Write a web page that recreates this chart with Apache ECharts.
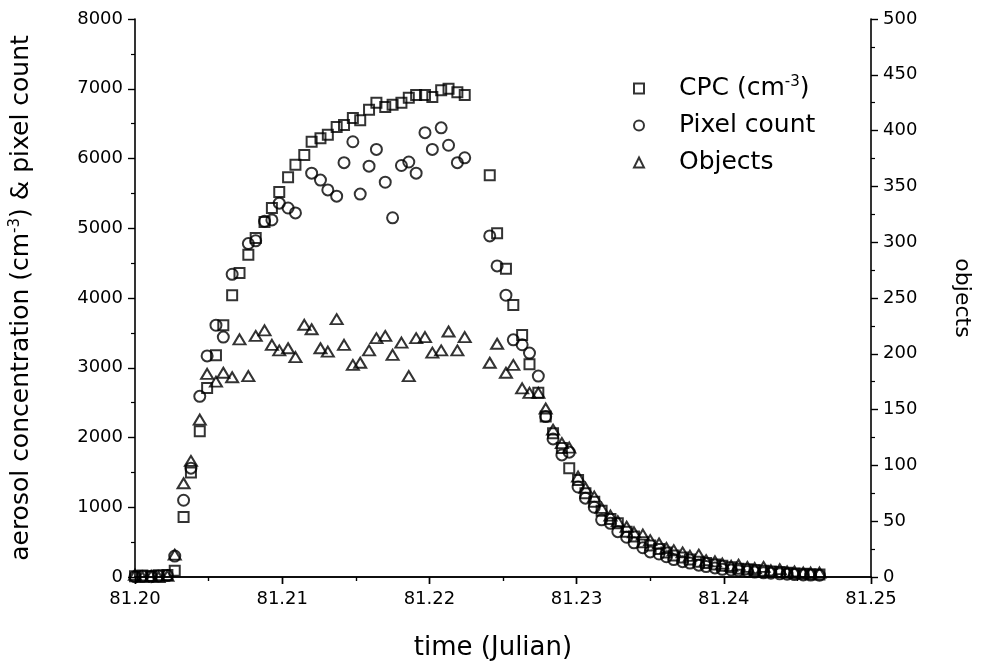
<!DOCTYPE html>
<html>
<head>
<meta charset="utf-8">
<script src="https://cdn.jsdelivr.net/npm/echarts@6/dist/echarts.min.js"></script>
<style>
html,body{margin:0;padding:0;background:#fff;}
#chart{width:981px;height:667px;}
</style>
</head>
<body>
<div id="chart"></div>
<script>
const time = [81.2000,81.2005,81.2011,81.2016,81.2022,81.2027,81.2033,81.2038,81.2044,81.2049,
81.2055,81.2060,81.2066,81.2071,81.2077,81.2082,81.2088,81.2093,81.2098,81.2104,
81.2109,81.2115,81.2120,81.2126,81.2131,81.2137,81.2142,81.2148,81.2153,81.2159,
81.2164,81.2170,81.2175,81.2181,81.2186,81.2191,81.2197,81.2202,81.2208,81.2213,
81.2219,81.2224,81.2230,81.2235,81.2241,81.2246,81.2252,81.2257,81.2263,81.2268,
81.2274,81.2279,81.2284,81.2290,81.2295,81.2301,81.2306,81.2312,81.2317,81.2323,
81.2328,81.2334,81.2339,81.2345,81.2350,81.2356,81.2361,81.2366,81.2372,81.2377,
81.2383,81.2388,81.2394,81.2399,81.2405,81.2410,81.2416,81.2421,81.2427,81.2432,
81.2438,81.2443,81.2448,81.2454,81.2459,81.2465];

const cpc = [10,20,15,25,30,90,860,1500,2090,2710,
3180,3610,4040,4360,4620,4860,5090,5290,5520,5730,
5910,6050,6240,6290,6340,6450,6480,6580,6550,6700,
6800,6740,6770,6800,6870,6910,6910,6880,6980,7000,
6950,6910,null,null,5760,4930,4420,3900,3470,3050,
2640,2300,2060,1850,1560,1390,1200,1080,950,830,
770,650,580,500,450,400,350,310,280,250,
220,200,180,160,140,120,110,100,90,80,
70,60,50,45,40,35];

const pixel = [5,10,5,15,20,300,1100,1560,2590,3170,
3610,3440,4340,null,4780,4820,5100,5120,5360,5290,
5220,null,5790,5690,5550,5460,5940,6240,5490,5890,
6130,5660,5150,5900,5950,5790,6370,6130,6440,6190,
5940,6010,null,null,4890,4460,4040,3400,3330,3210,
2880,2300,1980,1750,1790,1290,1130,1000,820,770,
650,570,490,420,360,330,290,250,220,200,
170,150,130,110,100,90,80,70,60,55,
45,40,35,30,28,25];

const objects = [2,0,1,0,1,20,84,104,141,182,
175,183,179,213,180,216,221,208,203,205,
197,226,222,205,202,231,208,190,192,203,
214,216,199,210,180,214,215,201,203,220,
203,215,null,null,192,209,183,190,169,165,
165,151,132,120,116,90,80,72,62,55,
50,45,40,38,33,30,26,24,22,19,
20,15,14,12,10,11,9,8,9,6,
7,5,5,4,4,4];

const xTicks = [81.20, 81.21, 81.22, 81.23, 81.24, 81.25];
const leftTicks = [0,1000,2000,3000,4000,5000,6000,7000,8000];
const rightTicks = [0,50,100,150,200,250,300,350,400,450,500];

function pairs(vals){ return time.map((t,i)=> vals[i]==null ? null : [t, vals[i]]).filter(p=>p); }

const FONT = 'DejaVu Sans';
const axisLine = {show:true, lineStyle:{color:'#000', width:1.6}};
const chart = echarts.init(document.getElementById('chart'), null, {renderer:'canvas'});
const markerStyle = {color:'rgba(255,255,255,0)', borderColor:'#000', borderWidth:2};

chart.setOption({
  backgroundColor:'#fff',
  animation:false,
  grid:{left:135, right:107, top:19, bottom:90, containLabel:false},
  legend:{
    orient:'vertical', left:628, top:70, itemGap:12,
    itemWidth:10, itemHeight:10,
    data:['CPC','Pixel count','Objects'],
    formatter: function(n){ return n==='CPC' ? '{a|CPC (cm}{s|-3}{a|)}' : '{a|'+n+'}'; },
    textStyle:{ fontFamily:FONT, fontSize:25, color:'#000', padding:[0,0,0,30],
      rich:{ a:{fontFamily:FONT, fontSize:25, color:'#000'}, s:{fontFamily:FONT, fontSize:15, color:'#000', verticalAlign:'top', padding:[0,0,12,0]} } }
  },
  xAxis:[{
    type:'value', min:xTicks[0], max:xTicks[xTicks.length-1], interval:0.01, position:'bottom',
    axisLine:axisLine, splitLine:{show:false},
    axisTick:{show:true, inside:false, length:7, lineStyle:{color:'#000', width:1.4}},
    minorTick:{show:true, splitNumber:2, length:4, lineStyle:{color:'#000', width:1.2}},
    axisLabel:{fontFamily:FONT, fontSize:18, color:'#000', margin:13, formatter:v=>v.toFixed(2)},
    name:'time (Julian)', nameLocation:'middle', nameGap:58,
    nameTextStyle:{fontFamily:FONT, fontSize:26, color:'#000', padding:[0,20,0,0]}
  },{
    type:'value', min:xTicks[0], max:xTicks[xTicks.length-1], interval:0.01, position:'top',
    axisLine:axisLine, splitLine:{show:false}, axisLabel:{show:false},
    axisTick:{show:true, inside:true, length:7, lineStyle:{color:'#000', width:1.4}},
    minorTick:{show:true, splitNumber:2, length:4, lineStyle:{color:'#000', width:1.2}}
  }],
  yAxis:[{
    type:'value', min:leftTicks[0], max:leftTicks[leftTicks.length-1], interval:1000, position:'left',
    axisLine:axisLine, splitLine:{show:false},
    axisTick:{show:true, inside:false, length:7, lineStyle:{color:'#000', width:1.4}},
    minorTick:{show:true, splitNumber:2, length:4, lineStyle:{color:'#000', width:1.2}},
    axisLabel:{fontFamily:FONT, fontSize:18, color:'#000', margin:12, formatter:v=>String(v)},
    name:'{a|aerosol concentration (cm}{s|-3}{a|) & pixel count}', nameLocation:'middle', nameGap:100, nameRotate:90,
    nameTextStyle:{fontFamily:FONT, fontSize:25, color:'#000',
      rich:{a:{fontFamily:FONT, fontSize:25, color:'#000'}, s:{fontFamily:FONT, fontSize:15, color:'#000', verticalAlign:'top', padding:[0,0,12,0]}}}
  },{
    type:'value', min:rightTicks[0], max:rightTicks[rightTicks.length-1], interval:50, position:'right',
    axisLine:axisLine, splitLine:{show:false},
    axisTick:{show:true, inside:false, length:7, lineStyle:{color:'#000', width:1.4}},
    minorTick:{show:true, splitNumber:2, length:4, lineStyle:{color:'#000', width:1.2}},
    axisLabel:{fontFamily:FONT, fontSize:18, color:'#000', margin:12, formatter:v=>String(v)},
    name:'objects', nameLocation:'middle', nameGap:80, nameRotate:-90,
    nameTextStyle:{fontFamily:FONT, fontSize:22, color:'#000'}
  }],
  series:[
    {name:'CPC', type:'scatter', xAxisIndex:0, yAxisIndex:0, symbol:'rect', symbolSize:10,
     itemStyle:markerStyle, data:pairs(cpc)},
    {name:'Pixel count', type:'scatter', xAxisIndex:0, yAxisIndex:0, symbol:'circle', symbolSize:11,
     itemStyle:markerStyle, data:pairs(pixel)},
    {name:'Objects', type:'scatter', xAxisIndex:0, yAxisIndex:1, symbol:'triangle', symbolSize:[12,10],
     itemStyle:markerStyle, data:pairs(objects)}
  ]
});
</script>
</body>
</html>
